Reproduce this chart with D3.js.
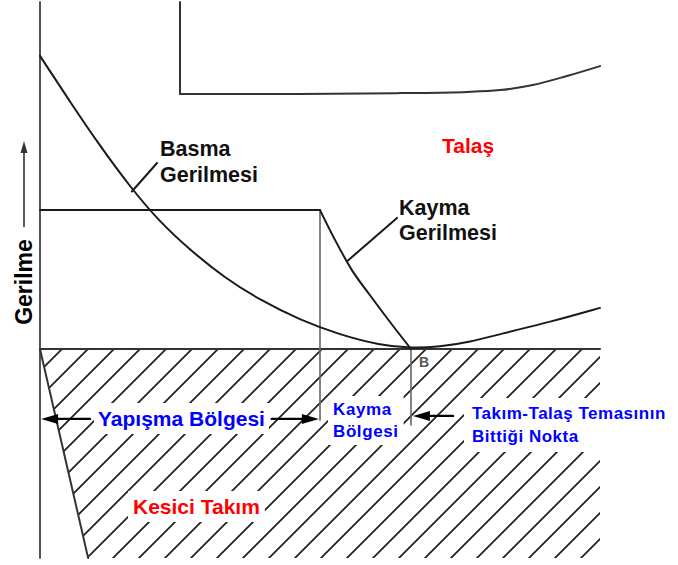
<!DOCTYPE html>
<html>
<head>
<meta charset="utf-8">
<script src="https://cdn.jsdelivr.net/npm/d3@7"></script>
<style>
  body { margin: 0; background: #fff; }
  text { font-family: "Liberation Sans", Arial, sans-serif; font-weight: bold; }
</style>
</head>
<body>
<svg id="chart" width="678" height="565"></svg>
<script>
// Gerilme dağılımı - talaş / takım temas bölgesi

// Basma gerilmesi (x: temas boyunca konum, y: gerilme)
const basmaX = [0, 5.4, 10.7, 16.1, 21.4, 26.8, 33, 39.3, 46.4, 53.6, 60.7, 66.1, 71.4, 76.8, 82.1, 91.1, 100];
const basmaY = [97.7, 82.3, 67.7, 54, 42.3, 33, 23.7, 16.3, 9.7, 4.7, 1.3, 0.3, 0.7, 2.3, 5, 9, 13.7];

// Kayma gerilmesi (sabit bölge + düşüş)
const kaymaX = [0, 50, 52.7, 55.7, 58.9, 62.5, 66.25];
const kaymaY = [46.3, 46.3, 36.3, 26.3, 18, 9, 0];

// Talaş üst sınırı
const talasX = [25, 25, 46.4, 64.3, 76.3, 82.1, 88, 94.1, 100];
const talasY = [115.7, 85, 85, 85.3, 85.7, 86.3, 88, 91, 94.3];

// Bölge sınırları
const yapismaSonu = 50;
const temasSonu = 66.25;
const takimAlt = -69.7;
const takimUcX = 8.6;
const eksenUst = 115.7;

const svg = d3.select("#chart");

const x = d3.scaleLinear().domain([0, 100]).range([40, 600]);
const y = d3.scaleLinear().domain([0, 100]).range([349, 49]);

const line = d3.line().x(d => x(d[0])).y(d => y(d[1]));
const smooth = d3.line().x(d => x(d[0])).y(d => y(d[1])).curve(d3.curveMonotoneX);
const basis = d3.line().x(d => x(d[0])).y(d => y(d[1])).curve(d3.curveBasis);

// hatch pattern
const defs = svg.append("defs");
const pat = defs.append("pattern")
    .attr("id", "hatch")
    .attr("patternUnits", "userSpaceOnUse")
    .attr("width", 26).attr("height", 26)
    .attr("x", 0).attr("y", 349 - 26 + 10);
pat.append("path")
    .attr("d", "M0,26 L26,0 M-3,3 L3,-3 M23,29 L29,23")
    .attr("stroke", "#222").attr("stroke-width", 1.8);

const takimPoly = [[0, 0], [100, 0], [100, takimAlt], [takimUcX, takimAlt]];
defs.append("clipPath").attr("id", "takimClip")
    .append("path").attr("d", line(takimPoly) + "Z");

svg.append("rect")
    .attr("x", 0).attr("y", 0).attr("width", 678).attr("height", 565)
    .attr("fill", "url(#hatch)")
    .attr("clip-path", "url(#takimClip)");

const bgLayer = svg.append("g");
const lineLayer = svg.append("g").attr("fill", "none").attr("stroke-linecap", "round");
const textLayer = svg.append("g");

// gerilme ekseni
lineLayer.append("path")
    .attr("d", line([[0, eksenUst], [0, takimAlt]]))
    .attr("stroke", "#555").attr("stroke-width", 2);

// takım talaş yüzeyi ve serbest yüzey
lineLayer.append("path")
    .attr("d", line([[0, 0], [100, 0]]))
    .attr("stroke", "#333").attr("stroke-width", 2);
lineLayer.append("path")
    .attr("d", line([[0, 0], [takimUcX, takimAlt]]))
    .attr("stroke", "#333").attr("stroke-width", 2);

// bölge sınır çizgileri
lineLayer.append("path")
    .attr("d", line([[yapismaSonu, kaymaY[1]], [yapismaSonu, -23.7]]))
    .attr("stroke", "#666").attr("stroke-width", 1.6);
lineLayer.append("path")
    .attr("d", line([[temasSonu, 0], [temasSonu, -25.3]]))
    .attr("stroke", "#666").attr("stroke-width", 1.6);

// talaş sınırı
const talas = talasX.map((v, i) => [v, talasY[i]]);
lineLayer.append("path")
    .attr("d", line(talas.slice(0, 2)))
    .attr("stroke", "#333").attr("stroke-width", 2);
lineLayer.append("path")
    .attr("d", smooth(talas.slice(1)))
    .attr("stroke", "#333").attr("stroke-width", 2);

// eğriler
lineLayer.append("path")
    .attr("d", basis(basmaX.map((v, i) => [v, basmaY[i]])))
    .attr("stroke", "#1a1a1a").attr("stroke-width", 2);
const kayma = kaymaX.map((v, i) => [v, kaymaY[i]]);
lineLayer.append("path")
    .attr("d", line(kayma.slice(0, 2)))
    .attr("stroke", "#1a1a1a").attr("stroke-width", 2);
lineLayer.append("path")
    .attr("d", smooth(kayma.slice(1)))
    .attr("stroke", "#1a1a1a").attr("stroke-width", 2);

// etiket çizgileri
lineLayer.append("path")
    .attr("d", line([[16.4, 52.5], [20.9, 62]]))
    .attr("stroke", "#1a1a1a").attr("stroke-width", 2);
lineLayer.append("path")
    .attr("d", line([[55, 29.5], [63.75, 43.7]]))
    .attr("stroke", "#1a1a1a").attr("stroke-width", 2);

// oklar
function arrow(x0, x1, yv) {
    const px0 = x(x0), px1 = x(x1), py = y(yv);
    const dir = Math.sign(px1 - px0);
    lineLayer.append("path")
        .attr("d", `M${px0},${py} L${px1 - dir * 10},${py}`)
        .attr("stroke", "#000").attr("stroke-width", 2.4);
    svg.append("path")
        .attr("d", `M${px1},${py} L${px1 - dir * 17},${py - 5} L${px1 - dir * 17},${py + 5} Z`)
        .attr("fill", "#000");
}

function label(lines, px, py, size, color, lh, spacing, bg) {
    const t = textLayer.append("text")
        .attr("x", px).attr("y", py)
        .attr("font-size", size)
        .attr("fill", color)
        .attr("letter-spacing", spacing || 0);
    lines.forEach((s, i) => {
        t.append("tspan").attr("x", px).attr("dy", i === 0 ? 0 : lh).text(s);
    });
    if (bg) {
        const b = t.node().getBBox();
        bgLayer.append("rect")
            .attr("x", b.x - bg[0]).attr("y", b.y - bg[1])
            .attr("width", b.width + 2 * bg[0]).attr("height", b.height + 2 * bg[1])
            .attr("fill", "#fff");
    }
}

label(["Basma", "Gerilmesi"], 160, 156, 21.5, "#111", 26);
label(["Kayma", "Gerilmesi"], 399, 215, 21.5, "#111", 25);
label(["Talaş"], 442, 153, 21, "#ff0000", 0);
label(["Kesici Takım"], 133, 514, 21, "#ff0000", 0, 0, [5, 4]);
label(["Yapışma Bölgesi"], 98, 426, 21, "#0000ff", 0, 0, [4, 4]);
label(["Kayma", "Bölgesi"], 333, 415, 17, "#0000ff", 22, 0.6, [5, 4]);
label(["Takım-Talaş Temasının", "Bittiği Nokta"], 472, 419, 17, "#0000ff", 23, 0.5, [8, 6]);

textLayer.append("text")
    .attr("x", 419).attr("y", 367)
    .attr("font-size", 14).attr("font-weight", "normal")
    .attr("fill", "#555").text("B");

arrow(8.9, 0.2, -23.3);
arrow(41.4, 49.8, -23.3);
arrow(73.75, 66.6, -22.3);

// dikey eksen etiketi
textLayer.append("text")
    .attr("transform", "translate(32,282) rotate(-90)")
    .attr("text-anchor", "middle")
    .attr("font-size", 23)
    .attr("fill", "#000")
    .text("Gerilme");
svg.append("path")
    .attr("d", "M24,227 L24,150")
    .attr("stroke", "#333").attr("stroke-width", 1.6);
svg.append("path")
    .attr("d", "M24,141 L20.5,153 L27.5,153 Z")
    .attr("fill", "#333");
</script>
</body>
</html>
